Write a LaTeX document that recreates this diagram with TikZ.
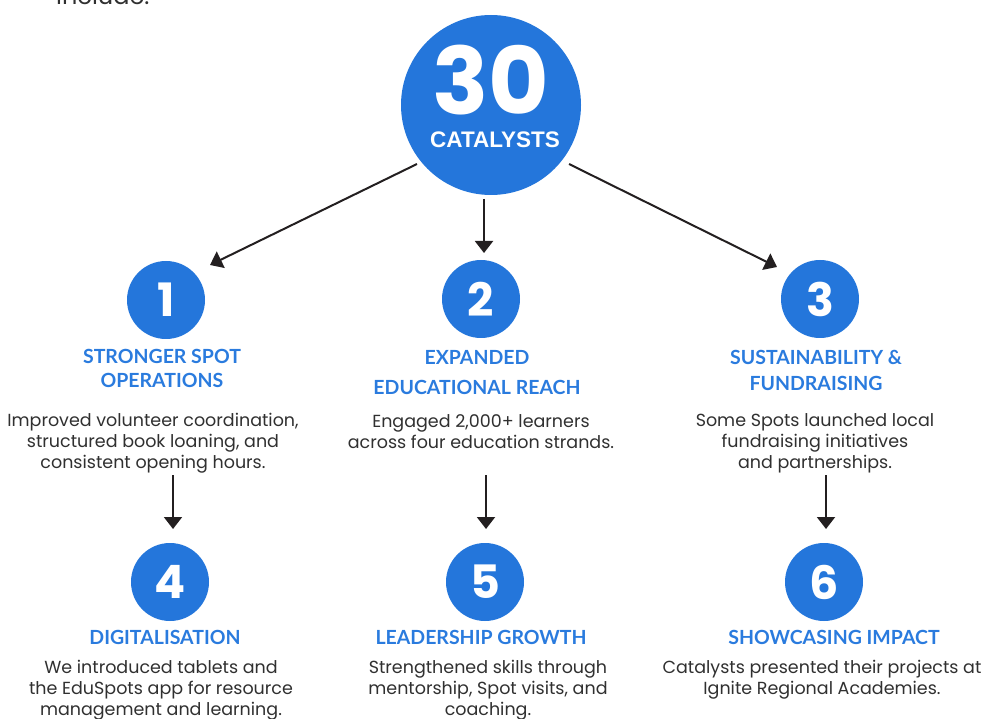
\documentclass[tikz,border=0pt]{standalone}
\usepackage{fontspec}
\setmainfont{Poppins}
\newfontfamily\headfont{Lato}
\newfontfamily\catfont{Liberation Sans}
\usetikzlibrary{arrows.meta}
\definecolor{cblue}{HTML}{2476DB}
\definecolor{hblue}{HTML}{2A7BDE}
\definecolor{btext}{HTML}{303030}
\definecolor{arr}{HTML}{231F20}
\tikzset{
  bignum/.style={circle,fill=cblue,minimum size=180pt,inner sep=0pt},
  numc/.style={circle,fill=cblue,minimum size=78pt,inner sep=0pt,text=white,font=\fontsize{46}{46}\selectfont\bfseries},
  head/.style={text=hblue,font=\headfont\fontsize{19.5}{24}\selectfont\bfseries,align=center,inner sep=0pt},
  body/.style={text=btext,font=\fontsize{17.5}{20.8}\selectfont,align=center,inner sep=0pt},
  conn/.style={draw=arr,line width=2pt,-{Triangle[length=12pt,width=18pt]}},
}
\begin{document}
\begin{tikzpicture}[x=1pt,y=-1pt]
\useasboundingbox (0,0) rectangle (988,719);
\node[text=btext,font=\fontsize{24}{24}\selectfont,anchor=base west,inner sep=0pt] (inc) at (56,5) {include:};
\node[bignum] (top) at (491,105) {};
\node[text=white,font=\fontsize{93}{93}\selectfont\bfseries,anchor=base,inner sep=0pt] (thirty) at (491,115) {30};
\node[text=white,font=\catfont\fontsize{22.5}{22.5}\selectfont\bfseries,anchor=base,inner sep=0pt] (cat) at (495,148) {CATALYSTS};
% circles
\node[numc] (c1) at (166,300) {1};
\node[numc] (c2) at (481,299) {2};
\node[numc] (c3) at (820,299) {3};
\node[numc] (c4) at (170,582) {4};
\node[numc] (c5) at (485,582) {5};
\node[numc] (c6) at (824,582) {6};
% headings
\node[head] (h1) at (162,368) {STRONGER SPOT\\[0pt]OPERATIONS};
\node[head] (h2a) at (477,357) {EXPANDED};
\node[head] (h2b) at (477,387) {EDUCATIONAL REACH};
\node[head] (h3) at (816,370) {SUSTAINABILITY \&\\[2pt]FUNDRAISING};
\node[head] (h4) at (165,637) {DIGITALISATION};
\node[head] (h5) at (481,637) {LEADERSHIP GROWTH};
\node[head] (h6) at (834,637) {SHOWCASING IMPACT};
% bodies
\node[body] (b1) at (153,443) {Improved volunteer coordination,\\structured book loaning, and\\consistent opening hours.};
\node[body] (b2) at (481,432) {Engaged 2,000+ learners\\across four education strands.};
\node[body] (b3) at (815,443) {Some Spots launched local\\fundraising initiatives\\and partnerships.};
\node[body] (b4) at (161,690) {We introduced tablets and\\the EduSpots app for resource\\management and learning.};
\node[body] (b5) at (488,690) {Strengthened skills through\\mentorship, Spot visits, and\\coaching.};
\node[body] (b6) at (822,680) {Catalysts presented their projects at\\Ignite Regional Academies.};
% connector anchors
\coordinate (s1) at (417,164);
\coordinate (t1) at (210,265);
\coordinate (s2) at (484,199);
\coordinate (t2) at (484,253);
\coordinate (s3) at (569,164);
\coordinate (t3) at (777,267);
\coordinate (s4) at (173,475);
\coordinate (t4) at (173,529);
\coordinate (s5) at (486,475);
\coordinate (t5) at (486,529);
\coordinate (s6) at (826,475);
\coordinate (t6) at (826,529);
\draw[conn] (s1) -- (t1);
\draw[conn] (s2) -- (t2);
\draw[conn] (s3) -- (t3);
\draw[conn] (s4) -- (t4);
\draw[conn] (s5) -- (t5);
\draw[conn] (s6) -- (t6);
\end{tikzpicture}
\end{document}
